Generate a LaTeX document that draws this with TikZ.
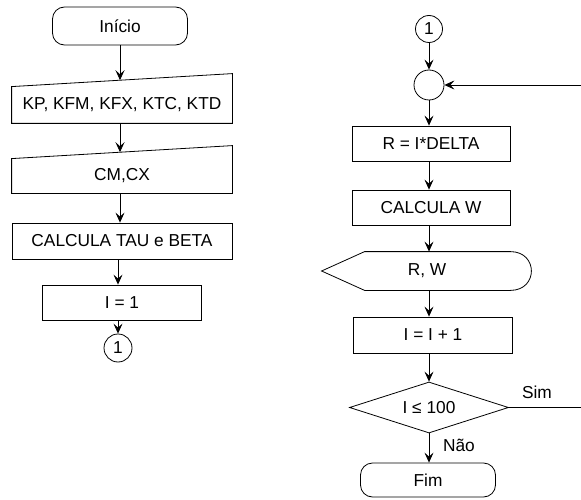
\documentclass[tikz,border=0pt]{standalone}
\usepackage{fontspec}
\setmainfont{Liberation Sans}
\usetikzlibrary{arrows.meta,shapes.geometric,calc}
\begin{document}
\begin{tikzpicture}[x=1pt,y=-1pt,line width=0.8pt,
  every node/.style={font=\fontsize{17.3}{20}\selectfont, inner sep=0pt},
  proc/.style={draw, rectangle, minimum height=35pt},
  term/.style={draw, rounded corners=12pt},
  conn/.style={draw, circle, minimum size=28pt},
  dec/.style={draw, diamond, aspect=3, minimum width=159pt, minimum height=51pt},
  arr/.style={-{Stealth[length=10pt,width=9pt,inset=4pt]}}
]
\useasboundingbox (0,0) rectangle (581,500);
\clip (0,0) rectangle (581,500);
% left column
\node[term, minimum width=135pt, minimum height=38pt] (inicio) at (120,26) {Início};
\node[minimum width=220pt, minimum height=36pt] (kp) at (122,105) {KP, KFM, KFX, KTC, KTD};
\coordinate (kpTR) at ($(kp.north east)+(0,-13)$);
\draw (kp.south west) -- (kp.north west) -- (kpTR) -- (kp.south east) -- cycle;
\node[minimum width=220pt, minimum height=34pt] (cm) at (122,176) {CM,CX};
\coordinate (cmTR) at ($(cm.north east)+(0,-13)$);
\draw (cm.south west) -- (cm.north west) -- (cmTR) -- (cm.south east) -- cycle;
\node[proc, minimum width=220pt, minimum height=36pt] (calc) at (122,241) {CALCULA TAU e BETA};
\node[proc, minimum width=159pt] (i1) at (122,302.5) {I = 1};
\node[conn] (c1) at (118,348) {1};
\draw[arr] (inicio.south) -- (inicio.south |- {$(kp.north west)!0.49!(kpTR)$});
\draw[arr] (inicio.south |- kp.south) -- (inicio.south |- {$(cm.north west)!0.49!(cmTR)$});
\draw[arr] (inicio.south |- cm.south) -- (inicio.south |- calc.north);
\draw[arr] (c1.north |- calc.south) -- (c1.north |- i1.north);
\draw[arr] (c1.north |- i1.south) -- (c1.north);
% right column
\node[conn, minimum size=27pt] (c1b) at (429,29) {1};
\node[conn, minimum size=30pt] (junc) at (429,85) {};
\node[proc, minimum width=158pt] (r) at (431,143.5) {R = I*DELTA};
\node[proc, minimum width=158pt] (w) at (431,207.5) {CALCULA W};
\node[minimum width=210pt, minimum height=38pt] (rw) at (427,271) {R, W};
\draw (rw.west) -- ($(rw.north west)+(43,0)$) -- ($(rw.north east)+(-22,0)$)
  .. controls ($(rw.north east)+(6,0)$) and ($(rw.south east)+(6,0)$) .. ($(rw.south east)+(-22,0)$)
  -- ($(rw.south west)+(43,0)$) -- cycle;
\node[proc, minimum width=159pt, minimum height=36pt] (i2) at (433,335) {I = I + 1};
\node[dec] (dc) at (429,407.5) {I ≤ 100};
\node[term, minimum width=135pt, minimum height=34pt] (fim) at (428,480) {Fim};
\node (sim) at (537,392) {Sim};
\node (nao) at (459,445) {Não};
\coordinate (rt) at (584,250);
\draw[arr] (c1b) -- (junc);
\draw[arr] (junc.south) -- (junc.south |- r.north);
\draw[arr] (junc.south |- r.south) -- (junc.south |- w.north);
\draw[arr] (junc.south |- w.south) -- (junc.south |- rw.north);
\draw[arr] (junc.south |- rw.south) -- (junc.south |- i2.north);
\draw[arr] (junc.south |- i2.south) -- (dc.north);
\draw[arr] (dc.south) -- (dc.south |- fim.north);
\draw[arr] (dc.east) -| (rt) |- (junc.east);
\end{tikzpicture}
\end{document}
